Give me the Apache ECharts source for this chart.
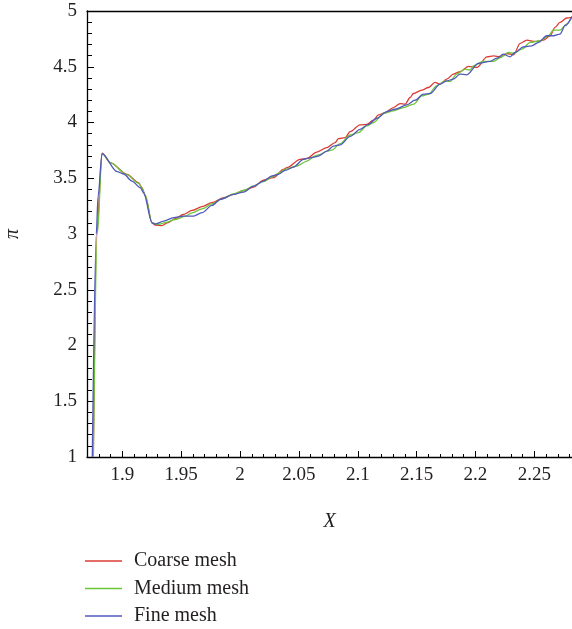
<!DOCTYPE html>
<html>
<head>
<meta charset="utf-8">
<script src="https://cdn.jsdelivr.net/npm/echarts@6/dist/echarts.min.js"></script>
<style>html,body{margin:0;padding:0;background:#fff;}#c{width:572px;height:629px;}</style>
</head>
<body>
<div id="c"></div>
<script>
const seriesNames = ['Coarse mesh', 'Medium mesh', 'Fine mesh'];
const xTicks = [1.9, 1.95, 2, 2.05, 2.1, 2.15, 2.2, 2.25];

const coarseX = [1.8754,1.8783,1.8828,1.8898,1.9040,1.9138,1.9167,1.9195,1.9252,1.9280,1.9337,1.9382,1.9450,1.9518,1.9592,1.9677,1.9761,1.9860,1.9945,2.0030,2.0115,2.0199,2.0284,2.0369,2.0398,2.0511,2.0568,2.0653,2.0738,2.0808,2.0836,2.0893,2.0935,2.1020,2.1077,2.1133,2.1176,2.1233,2.1303,2.1360,2.1402,2.1445,2.1473,2.1544,2.1600,2.1657,2.1699,2.1756,2.1812,2.1869,2.1940,2.2013,2.2097,2.2154,2.2211,2.2267,2.2324,2.2379,2.2436,2.2506,2.2577,2.2634,2.2676,2.2718,2.2775,2.2820];
const coarseY = [1.0,3.0,3.725,3.64,3.535,3.46,3.415,3.34,3.10,3.08,3.076,3.10,3.137,3.175,3.211,3.245,3.281,3.325,3.355,3.39,3.42,3.484,3.505,3.58,3.595,3.670,3.679,3.735,3.775,3.820,3.856,3.865,3.918,3.978,3.984,4.020,4.068,4.089,4.134,4.170,4.164,4.224,4.260,4.290,4.314,4.359,4.344,4.389,4.434,4.455,4.503,4.494,4.589,4.598,4.589,4.619,4.607,4.709,4.739,4.727,4.739,4.778,4.853,4.898,4.937,4.943];

const mediumX = [1.8754,1.8788,1.8828,1.8898,1.9040,1.9138,1.9167,1.9195,1.9252,1.9308,1.9374,1.9450,1.9535,1.9592,1.9677,1.9761,1.9860,1.9945,2.0030,2.0115,2.0199,2.0271,2.0327,2.0384,2.0483,2.0568,2.0638,2.0681,2.0738,2.0780,2.0851,2.0935,2.1006,2.1077,2.1133,2.1218,2.1303,2.1388,2.1473,2.1544,2.1600,2.1671,2.1742,2.1784,2.1841,2.1912,2.1954,2.1982,2.2067,2.2154,2.2211,2.2281,2.2324,2.2395,2.2465,2.2550,2.2619,2.2662,2.2718,2.2775,2.2820];
const mediumY = [1.0,3.0,3.72,3.64,3.53,3.455,3.41,3.35,3.10,3.085,3.105,3.13,3.16,3.19,3.225,3.27,3.32,3.36,3.39,3.43,3.47,3.51,3.545,3.58,3.61,3.654,3.70,3.715,3.744,3.753,3.810,3.888,3.909,3.969,4.00,4.080,4.104,4.134,4.164,4.239,4.254,4.329,4.373,4.368,4.434,4.479,4.470,4.508,4.548,4.548,4.583,4.628,4.619,4.658,4.718,4.733,4.778,4.829,4.829,4.883,4.950];

const fineX = [1.8745,1.8779,1.8794,1.8828,1.8955,1.9011,1.9082,1.9153,1.9181,1.9252,1.9280,1.9351,1.9435,1.9520,1.9605,1.9677,1.9761,1.9832,1.9945,2.0030,2.0115,2.0199,2.0271,2.0327,2.0384,2.0454,2.0539,2.0610,2.0666,2.0738,2.0794,2.0851,2.0935,2.1020,2.1091,2.1162,2.1247,2.1317,2.1417,2.1487,2.1558,2.1615,2.1699,2.1756,2.1812,2.1869,2.1926,2.2025,2.2124,2.2181,2.2237,2.2294,2.2336,2.2407,2.2478,2.2535,2.2605,2.2662,2.2718,2.2761,2.2820];
const fineY = [1.0,3.0,3.34,3.72,3.56,3.538,3.475,3.415,3.370,3.101,3.088,3.115,3.146,3.160,3.160,3.191,3.256,3.310,3.355,3.376,3.430,3.475,3.520,3.535,3.571,3.600,3.670,3.685,3.699,3.744,3.789,3.800,3.875,3.939,3.984,4.038,4.098,4.119,4.158,4.200,4.254,4.260,4.344,4.373,4.389,4.434,4.428,4.530,4.548,4.577,4.613,4.589,4.628,4.679,4.688,4.718,4.778,4.778,4.793,4.868,4.950];

const colors = ['#dc3c34', '#6cc63a', '#5059bb'];
const xMin = 1.87, xMax = 2.282;

const minorTicks = [];
for (let i = 187; i <= 228; i++) {
  if (i % 5 !== 0) minorTicks.push(i / 100);
}

const serif = 'Liberation Serif';
const txt = '#231f20';
const zip = (xs, ys) => xs.map((x, i) => [x, ys[i]]);

const chart = echarts.init(document.getElementById('c'), null, {renderer: 'canvas'});
const mk = (name, xs, ys, color) => ({
  name: name, type: 'line', data: zip(xs, ys), xAxisIndex: 0,
  symbol: 'none', smooth: 0.3, smoothMonotone: 'x',
  lineStyle: {color: color, width: 1.3}, itemStyle: {color: color},
  clip: true, animation: false
});

chart.setOption({
  animation: false,
  grid: {left: 87, top: 11, right: 0, bottom: 172, containLabel: false, outerBoundsMode: 'none'},
  legend: {
    orient: 'vertical', left: 85, top: 551, padding: 0,
    itemWidth: 37, itemHeight: 1.5, itemGap: 7.5, icon: 'rect',
    data: seriesNames,
    textStyle: {fontFamily: serif, fontSize: 20, lineHeight: 20, color: txt, padding: [0, 0, 0, 7]}
  },
  xAxis: [
    {
      type: 'value', min: xMin, max: xMax, position: 'bottom',
      name: 'X', nameLocation: 'middle', nameGap: 55,
      nameTextStyle: {fontFamily: serif, fontSize: 20, fontStyle: 'italic', color: txt},
      axisLine: {show: true, onZero: false, lineStyle: {color: '#000', width: 1.3}},
      axisTick: {show: true, inside: true, length: 6, customValues: xTicks, lineStyle: {color: '#000', width: 1}},
      axisLabel: {customValues: xTicks, fontFamily: serif, fontSize: 19, color: txt, margin: 9},
      splitLine: {show: false}
    },
    {
      type: 'value', min: xMin, max: xMax, position: 'bottom',
      axisLine: {show: false},
      axisTick: {show: true, inside: true, length: 3, customValues: minorTicks, lineStyle: {color: '#000', width: 1}},
      axisLabel: {show: false}, splitLine: {show: false}
    },
    {
      type: 'value', min: xMin, max: xMax, position: 'top',
      axisLine: {show: true, onZero: false, lineStyle: {color: '#000', width: 1.3}},
      axisTick: {show: false}, axisLabel: {show: false}, splitLine: {show: false}
    }
  ],
  yAxis: {
    type: 'value', min: 1, max: 5, interval: 0.5,
    name: 'π', nameLocation: 'middle', nameGap: 64, nameRotate: 90,
    nameTextStyle: {fontFamily: serif, fontSize: 20, fontStyle: 'italic', color: txt},
    axisLine: {show: true, onZero: false, lineStyle: {color: '#000', width: 1.3}},
    axisTick: {show: true, inside: true, length: 7, lineStyle: {color: '#000', width: 1}},
    minorTick: {show: true, splitNumber: 5, length: 5, lineStyle: {color: '#000', width: 1}},
    axisLabel: {fontFamily: serif, fontSize: 19, color: txt, margin: 10},
    splitLine: {show: false}, minorSplitLine: {show: false}
  },
  series: [
    mk(seriesNames[0], coarseX, coarseY, colors[0]),
    mk(seriesNames[1], mediumX, mediumY, colors[1]),
    mk(seriesNames[2], fineX, fineY, colors[2])
  ]
});
</script>
</body>
</html>
